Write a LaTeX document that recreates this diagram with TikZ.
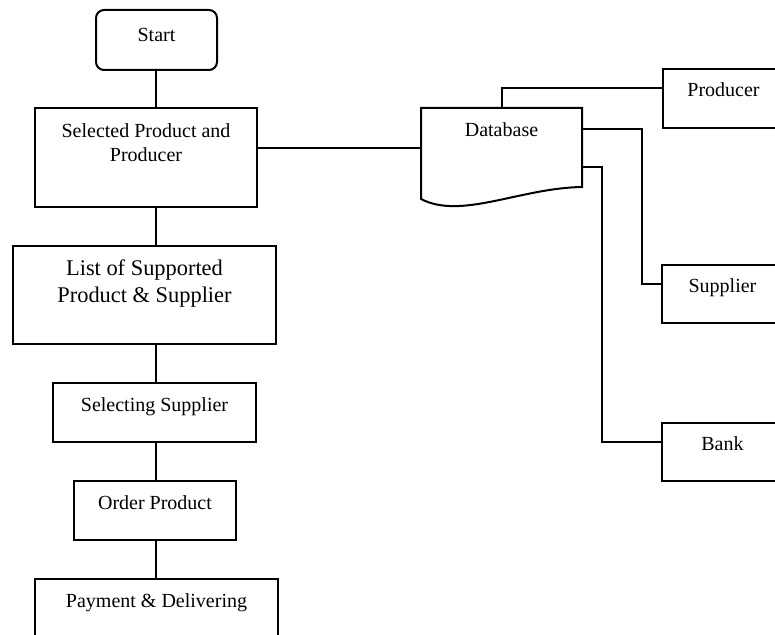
\documentclass[tikz,border=0pt]{standalone}
\usepackage{fontspec}
\setmainfont{Liberation Serif}
\usetikzlibrary{calc}
\tikzset{
  flownode/.style  = {shape=rectangle, draw, line width=1pt,
                      inner sep=0pt, outer sep=0pt, align=center,
                      font=\fontsize{10}{12}\selectfont},
  startnode/.style = {flownode, rounded corners=4pt},
  bignode/.style   = {flownode, font=\fontsize{11.2}{13.5}\selectfont},
  docnode/.style   = {flownode, draw=none},
  link/.style      = {draw, line width=1pt}
}

\begin{document}
\begin{tikzpicture}[x=0.5pt, y=-0.5pt]
  \useasboundingbox (0,0) rectangle (775,635);
  \clip (0,0) rectangle (775,635);

  % main column
  \coordinate (col) at (155.5,0);
  \node [startnode, anchor=north, minimum width=60.5pt,
         text height=16pt, text depth=14pt] (start) at (156.5,10) {Start};
  \node [flownode, anchor=north, minimum width=111pt,
         text height=27pt, text depth=22.5pt] (sel) at (146,108)
        {Selected Product and\\Producer};
  \node [bignode, anchor=north, minimum width=131.5pt,
         text height=28.5pt, text depth=20.5pt] (list) at (144.5,246)
        {List of Supported\\Product \& Supplier};
  \node [flownode, anchor=north, minimum width=101.5pt,
         text height=14.5pt, text depth=15pt] (selsup) at (154.5,383)
        {Selecting Supplier};
  \node [flownode, anchor=north, minimum width=81pt,
         text height=14pt, text depth=15.5pt] (order) at (155,481)
        {Order Product};
  \node [flownode, anchor=north, minimum width=121.5pt,
         text height=14pt, text depth=35.5pt] (pay) at (156.5,579)
        {Payment \& Delivering};

  % database and partners
  \node [docnode, anchor=north, minimum width=80.5pt,
         text height=14.5pt, text depth=35pt] (db) at (501.5,108) {Database};
  \node [flownode, anchor=north, minimum width=60.5pt,
         text height=14pt, text depth=15.5pt] (prod) at (723.5,69) {Producer};
  \node [flownode, anchor=north, minimum width=60.5pt,
         text height=14pt, text depth=15pt] (sup) at (722.5,265) {Supplier};
  \node [flownode, anchor=north, minimum width=60.5pt,
         text height=14pt, text depth=15pt] (bank) at (722.5,423) {Bank};

  \draw [link] (db.north west) -- (db.north east) -- ($(db.north east)+(0,79)$)
    .. controls ($(db.south west)+(99,-19)$) and ($(db.south west)+(40,13)$)
    .. ($(db.south west)+(0,-8)$) -- cycle;

  % connectors
  \draw [link] (col |- start.south) -- (col |- sel.north);
  \draw [link] (col |- sel.south) -- (col |- list.north);
  \draw [link] (col |- list.south) -- (col |- selsup.north);
  \draw [link] (col |- selsup.south) -- (col |- order.north);
  \draw [link] (col |- order.south) -- (col |- pay.north);
  \draw [link] ($(sel.east)+(0,-9.5)$) -- ($(db.west)+(0,-9.5)$);
  \draw [link] (db.north) |- ($(prod.west)+(0,-10.5)$);
  \draw [link] ($(db.north east)+(0,21)$) -| ($(sup.west)+(-20,-10)$)
    -- ($(sup.west)+(0,-10)$);
  \draw [link] ($(db.north east)+(0,59)$) -| ($(bank.west)+(-60,-10)$)
    -- ($(bank.west)+(0,-10)$);
\end{tikzpicture}
\end{document}
